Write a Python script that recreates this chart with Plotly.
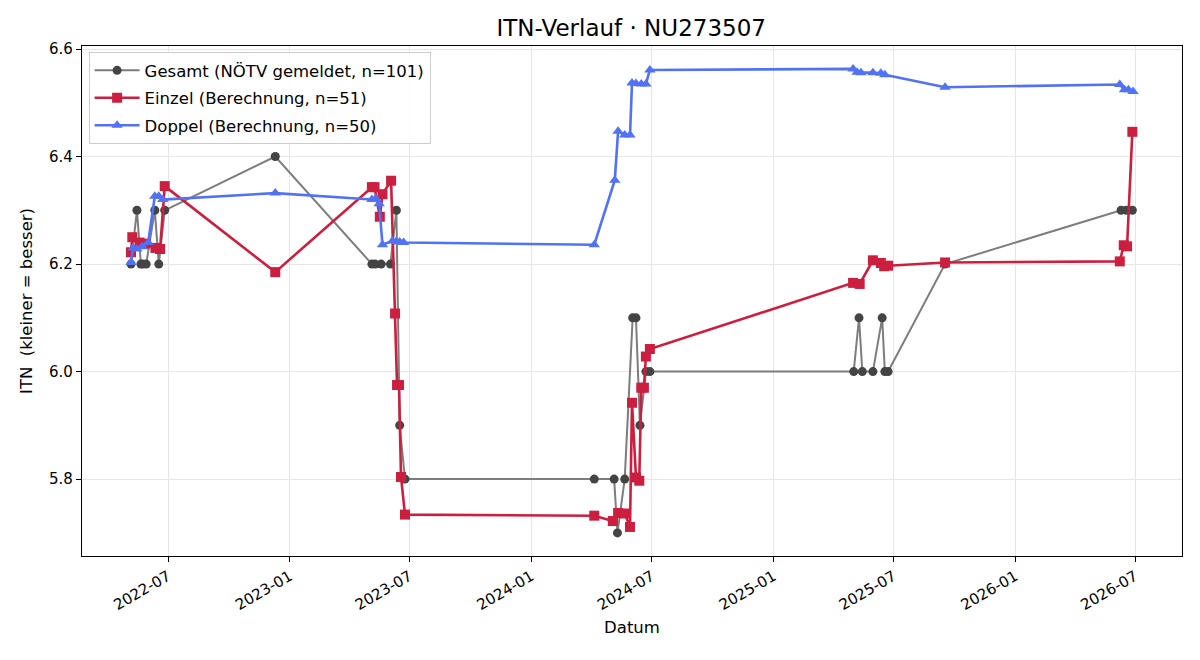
import plotly.graph_objects as go

# ---- data ----
gesamt_dates = ["2022-05-06", "2022-05-15", "2022-05-21", "2022-05-24", "2022-05-29",
                "2022-06-11", "2022-06-17", "2022-06-26", "2022-12-10",
                "2023-05-05", "2023-05-10", "2023-05-19", "2023-06-02", "2023-06-11",
                "2023-06-16", "2023-06-24",
                "2024-04-05", "2024-05-05", "2024-05-10", "2024-05-21", "2024-06-02",
                "2024-06-07", "2024-06-13", "2024-06-22", "2024-06-28",
                "2025-05-02", "2025-05-10", "2025-05-15", "2025-05-31", "2025-06-14",
                "2025-06-18", "2025-06-23", "2025-09-17",
                "2026-06-10", "2026-06-18", "2026-06-27"]
gesamt_vals = [6.2, 6.3, 6.2, 6.2, 6.2,
               6.3, 6.2, 6.3, 6.4,
               6.2, 6.2, 6.2, 6.2, 6.3,
               5.9, 5.8,
               5.8, 5.8, 5.7, 5.8, 6.1,
               6.1, 5.9, 6.0, 6.0,
               6.0, 6.1, 6.0, 6.0, 6.1,
               6.0, 6.0, 6.2,
               6.3, 6.3, 6.3]

einzel_dates = ["2022-05-06", "2022-05-08", "2022-05-19", "2022-05-28", "2022-06-12",
                "2022-06-19", "2022-06-26", "2022-12-10",
                "2023-05-05", "2023-05-09", "2023-05-17", "2023-05-21", "2023-06-03",
                "2023-06-09", "2023-06-12", "2023-06-15", "2023-06-18", "2023-06-24",
                "2024-04-05", "2024-05-03", "2024-05-11", "2024-05-21", "2024-05-29",
                "2024-06-01", "2024-06-07", "2024-06-12", "2024-06-15", "2024-06-19",
                "2024-06-22", "2024-06-28",
                "2025-05-01", "2025-05-11", "2025-05-31", "2025-06-12", "2025-06-17",
                "2025-06-23", "2025-09-17",
                "2026-06-08", "2026-06-14", "2026-06-19", "2026-06-27"]
einzel_vals = [6.222, 6.250, 6.240, 6.238, 6.230,
               6.228, 6.345, 6.185,
               6.343, 6.343, 6.288, 6.330, 6.355,
               6.108, 5.975, 5.975, 5.804, 5.734,
               5.732, 5.722, 5.737, 5.736, 5.711,
               5.942, 5.803, 5.797, 5.970, 5.970,
               6.028, 6.042,
               6.165, 6.163, 6.207, 6.202, 6.196,
               6.197, 6.203,
               6.205, 6.235, 6.233, 6.446]

doppel_dates = ["2022-05-06", "2022-05-09", "2022-05-15", "2022-05-23", "2022-06-01",
                "2022-06-11", "2022-06-17", "2022-06-23", "2022-12-10",
                "2023-05-05", "2023-05-11", "2023-05-16", "2023-05-21", "2023-06-05",
                "2023-06-11", "2023-06-16", "2023-06-22",
                "2024-04-05", "2024-05-06", "2024-05-11", "2024-05-21", "2024-05-29",
                "2024-06-01", "2024-06-07", "2024-06-15", "2024-06-22", "2024-06-28",
                "2025-05-01", "2025-05-07", "2025-05-13", "2025-05-31", "2025-06-12",
                "2025-06-18", "2025-09-17",
                "2026-06-08", "2026-06-15", "2026-06-21", "2026-06-28"]
doppel_vals = [6.203, 6.230, 6.228, 6.232, 6.240,
               6.326, 6.326, 6.320, 6.332,
               6.320, 6.322, 6.312, 6.236, 6.243,
               6.242, 6.241, 6.240,
               6.236, 6.356, 6.447, 6.440, 6.440,
               6.537, 6.536, 6.535, 6.535, 6.561,
               6.563, 6.557, 6.556, 6.556, 6.555,
               6.552, 6.529,
               6.534, 6.524, 6.524, 6.521]

x_tickvals = ["2022-07-01", "2023-01-01", "2023-07-01", "2024-01-01", "2024-07-01",
              "2025-01-01", "2025-07-01", "2026-01-01", "2026-07-01"]
x_ticktext = ["2022-07", "2023-01", "2023-07", "2024-01", "2024-07",
              "2025-01", "2025-07", "2026-01", "2026-07"]
y_tickvals = [5.8, 6.0, 6.2, 6.4, 6.6]

FONT = "DejaVu Sans"

fig = go.Figure()
fig.add_trace(go.Scatter(
    x=gesamt_dates, y=gesamt_vals, mode="lines+markers",
    name="Gesamt (NÖTV gemeldet, n=101)", legendgroup="g",
    line=dict(color="#7d7d7d", width=2),
    marker=dict(symbol="circle", size=9, color="#444444"),
))
fig.add_trace(go.Scatter(
    x=einzel_dates, y=einzel_vals, mode="lines+markers",
    name="Einzel (Berechnung, n=51)", legendgroup="e",
    line=dict(color="#cc1f40", width=2.6),
    marker=dict(symbol="square", size=10, color="#cc1f40"),
))
fig.add_trace(go.Scatter(
    x=doppel_dates, y=doppel_vals, mode="lines+markers",
    name="Doppel (Berechnung, n=50)", legendgroup="d",
    line=dict(color="#5272f5", width=2.6),
    marker=dict(symbol="triangle-up", size=10, color="#5272f5"),
))

axis_common = dict(
    showline=True, linecolor="black", linewidth=1.2, mirror=True,
    ticks="outside", ticklen=5, tickcolor="black", tickwidth=1,
    showgrid=True, gridcolor="#e6e6e6", gridwidth=1, zeroline=False,
    tickfont=dict(family=FONT, size=15, color="black"),
)

fig.update_layout(
    width=1200, height=660,
    paper_bgcolor="white", plot_bgcolor="white",
    margin=dict(l=82, r=18, t=46, b=104),
    font=dict(family=FONT, color="black"),
    title=dict(text="ITN-Verlauf · NU273507", x=0.526, xanchor="center",
               y=0.958, yanchor="middle", font=dict(family=FONT, size=23)),
    xaxis=dict(range=["2022-02-21", "2026-09-10"], tickvals=x_tickvals, ticktext=x_ticktext,
               tickangle=-30,
               title=dict(text="Datum", font=dict(family=FONT, size=16.5), standoff=8),
               **axis_common),
    yaxis=dict(range=[5.657, 6.6056], tickvals=y_tickvals, tickformat=".1f",
               title=dict(text="ITN  (kleiner = besser)", font=dict(family=FONT, size=16.5), standoff=12),
               **axis_common),
    legend=dict(x=0.006, y=0.988, xanchor="left", yanchor="top",
                bgcolor="rgba(255,255,255,0.85)", bordercolor="#cccccc", borderwidth=1,
                font=dict(family=FONT, size=16.5), traceorder="grouped",
                tracegroupgap=3, itemwidth=45),
    showlegend=True,
)

fig.write_html("out.html")
